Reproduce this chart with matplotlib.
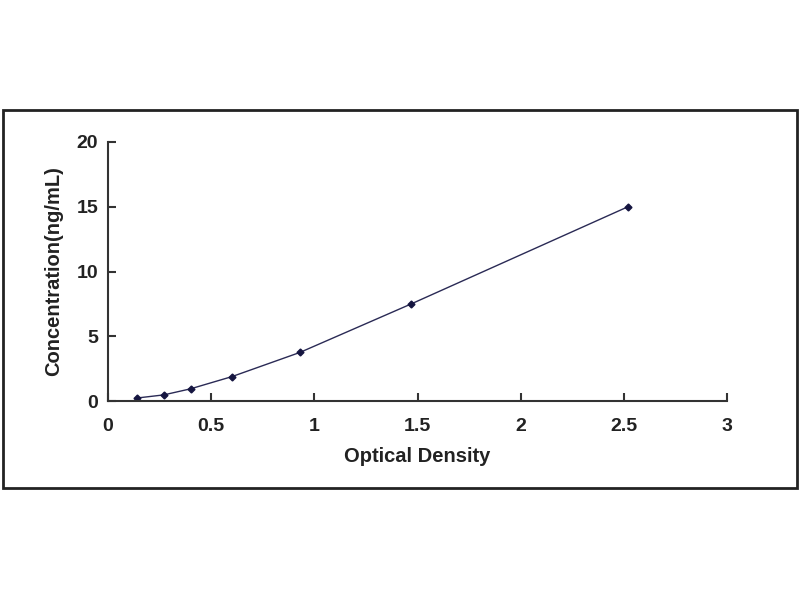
import matplotlib.pyplot as plt
from matplotlib.patches import Rectangle

# Standard curve values
od = [0.14, 0.27, 0.40, 0.60, 0.93, 1.47, 2.52]
conc = [0.23, 0.47, 0.94, 1.88, 3.75, 7.5, 15.0]
x_ticks = [0, 0.5, 1, 1.5, 2, 2.5, 3]
x_labels = ['0', '0.5', '1', '1.5', '2', '2.5', '3']
y_ticks = [0, 5, 10, 15, 20]

plt.rcParams['font.family'] = ['Liberation Sans', 'DejaVu Sans']

fig = plt.figure(figsize=(8, 6), dpi=100)
fig.patches.append(Rectangle((3 / 800, 1 - 488 / 600), 794 / 800, 378 / 600,
                             transform=fig.transFigure, fill=False,
                             edgecolor='#222222', linewidth=2))

ax = fig.add_axes([108 / 800, 1 - 401 / 600, 619 / 800, 259 / 600])
ax.plot(od, conc, color='#2a2a55', linewidth=1, marker='D', markersize=3.5,
        markerfacecolor='#151540', markeredgecolor='#151540')

ax.set_xlim(0, 3)
ax.set_ylim(0, 20)
ax.set_xticks(x_ticks)
ax.set_xticklabels(x_labels)
ax.set_yticks(y_ticks)
for s in ['top', 'right']:
    ax.spines[s].set_visible(False)
for s in ['left', 'bottom']:
    ax.spines[s].set_color('#333333')
    ax.spines[s].set_linewidth(1.5)
ax.tick_params(direction='in', length=6, width=1.5, colors='#333333', labelsize=14)
ax.tick_params(axis='x', pad=12)
ax.tick_params(axis='y', pad=7)
for lab in ax.get_xticklabels() + ax.get_yticklabels():
    lab.set_fontweight('bold')
    lab.set_color('#222222')

ax.set_xlabel('Optical Density', fontsize=14.5, fontweight='bold', color='#222222', labelpad=9)
ax.set_ylabel('Concentration(ng/mL)', fontsize=14.5, fontweight='bold', color='#222222', labelpad=10)

fig.savefig('out.png', dpi=100)
